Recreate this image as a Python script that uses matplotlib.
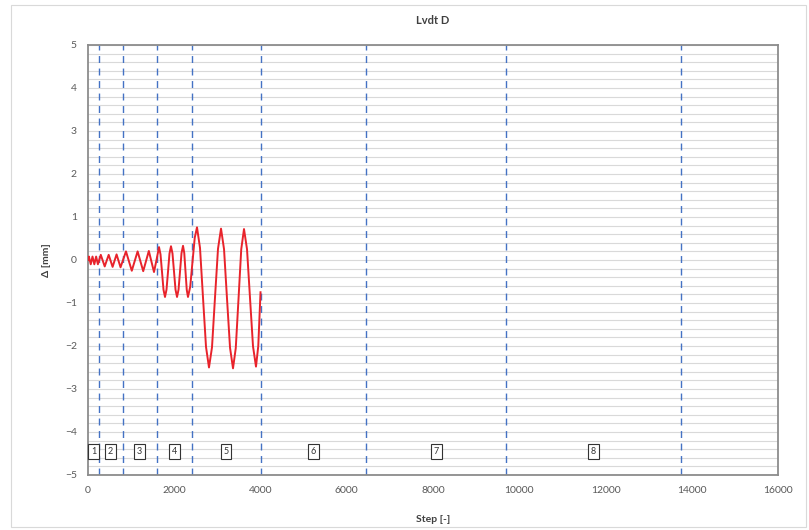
import matplotlib.pyplot as plt
from matplotlib.patches import Rectangle
from matplotlib.ticker import MultipleLocator

plt.rcParams['font.family'] = ['Lato', 'DejaVu Sans']

# LVDT D signal, stage by stage
step = [0,
        21, 63, 104, 146, 188, 229,
        296, 387, 479, 570, 662, 754,
        880, 1015, 1150, 1280, 1410, 1530, 1588,
        1646, 1681, 1716, 1750, 1785, 1820, 1855, 1889,
        1924, 1959, 1994, 2029, 2064, 2099, 2134, 2168,
        2203, 2232, 2260, 2289, 2318, 2370, 2422, 2475,
        2527, 2597, 2666, 2736, 2805, 2875, 2944, 3014,
        3084, 3154, 3223, 3293, 3362, 3426, 3490, 3553,
        3617, 3687, 3756, 3826, 3895, 3948, 4000]
delta = [0.0,
         0.08, -0.10, 0.08, -0.10, 0.08, -0.10,
         0.12, -0.15, 0.12, -0.16, 0.13, -0.17,
         0.20, -0.25, 0.20, -0.26, 0.21, -0.28, 0.00,
         0.30, 0.13, -0.28, -0.69, -0.86, -0.69, -0.27, 0.15,
         0.32, 0.15, -0.27, -0.69, -0.86, -0.69, -0.26, 0.16,
         0.33, 0.16, -0.26, -0.69, -0.86, -0.62, -0.05, 0.52,
         0.76, 0.28, -0.87, -2.02, -2.50, -2.03, -0.88, 0.26,
         0.73, 0.25, -0.90, -2.04, -2.52, -2.05, -0.90, 0.25,
         0.72, 0.25, -0.88, -2.01, -2.48, -2.00, -0.75]

# stage boundaries and stage numbers
stage_ends = [250, 800, 1600, 2400, 4000, 6450, 9700, 13750]
stage_names = ['1', '2', '3', '4', '5', '6', '7', '8']
stage_mid = [125, 525, 1200, 2000, 3200, 5225, 8075, 11725]
label_y = -4.45

fig = plt.figure(figsize=(8.09, 5.30), dpi=100)
ax = fig.add_axes([0.1088, 0.1038, 0.8529, 0.8113])

fig.patches.append(Rectangle((11 / 809, 3 / 530), 795 / 809, 522 / 530,
                             transform=fig.transFigure, fill=False,
                             edgecolor='#d9d9d9', linewidth=0.8))

ax.set_xlim(0, 16000)
ax.set_ylim(-5, 5)
ax.xaxis.set_major_locator(MultipleLocator(2000))
ax.yaxis.set_major_locator(MultipleLocator(1))
ax.yaxis.set_minor_locator(MultipleLocator(0.2))
ax.grid(True, axis='y', which='both', color='#d9d9d9', linewidth=0.8)
ax.set_axisbelow(True)

for x in stage_ends:
    ax.axvline(x, color='#4472c4', linestyle=(0, (5, 4)), linewidth=1.0, zorder=1.5)

ax.plot(step, delta, color='#e8232b', linewidth=1.4, zorder=3)

for x, s in zip(stage_mid, stage_names):
    ax.text(x, label_y, s, ha='center', va='center', fontsize=6.5, color='#333333',
            bbox=dict(boxstyle='square,pad=0.3', facecolor='white',
                      edgecolor='#333333', linewidth=0.8), zorder=4)

for sp in ax.spines.values():
    sp.set_color('#8c8c8c')
    sp.set_linewidth(1.3)

ax.tick_params(axis='both', which='both', length=0, labelsize=7.5,
               labelcolor='#595959', pad=8)

ax.set_title('Lvdt D', fontsize=8, fontweight='bold', color='#404040', pad=15)
ax.set_xlabel('Step [-]', fontsize=7.5, fontweight='bold', color='#404040', labelpad=14)
ax.set_ylabel('Δ [mm]', fontsize=7.5, fontweight='bold', color='#404040', labelpad=10)

fig.savefig('out.png', dpi=100)
